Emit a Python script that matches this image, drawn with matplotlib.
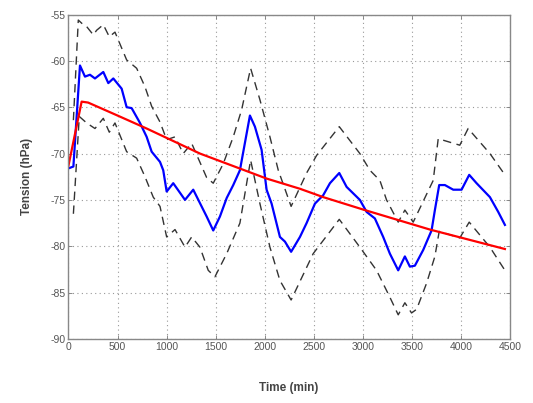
import matplotlib
matplotlib.use("Agg")
import matplotlib.pyplot as plt

# Mean tension (blue)
mean_t = [0, 50, 117, 168, 219, 270, 355, 406, 457, 542, 593, 644, 729, 797, 848,
          933, 966, 1001, 1068, 1188, 1272, 1409, 1476, 1544, 1613, 1680, 1748, 1850,
          1901, 1969, 2020, 2071, 2156, 2207, 2270, 2360, 2428, 2513, 2597, 2666, 2761,
          2836, 2971, 3040, 3124, 3209, 3277, 3362, 3430, 3481, 3532, 3617, 3702, 3736,
          3780, 3838, 3923, 4008, 4086, 4161, 4297, 4382, 4450]
mean_v = [-71.6, -71.4, -60.5, -61.7, -61.5, -61.9, -61.2, -62.4, -61.9, -63.0, -65.0,
          -65.1, -66.7, -68.2, -69.8, -70.9, -71.8, -74.1, -73.2, -75.0, -73.9, -76.8,
          -78.3, -76.8, -74.8, -73.4, -71.8, -65.9, -67.1, -69.6, -73.9, -75.4, -79.0,
          -79.5, -80.6, -79.0, -77.5, -75.4, -74.5, -73.2, -72.1, -73.6, -75.0, -76.3,
          -77.0, -79.0, -80.8, -82.6, -81.1, -82.2, -82.1, -80.4, -78.3, -76.1, -73.4,
          -73.4, -73.9, -73.9, -72.3, -73.2, -74.7, -76.3, -77.7]

# Upper bound (dashed)
up_t = [50, 100, 151, 185, 253, 287, 355, 416, 474, 593, 695, 780, 848, 933, 1001,
        1086, 1170, 1256, 1409, 1476, 1578, 1680, 1765, 1857, 1952, 2054, 2139, 2270,
        2428, 2530, 2761, 2971, 3073, 3175, 3243, 3362, 3430, 3515, 3719, 3770, 3990,
        4075, 4297, 4450]
up_v = [-66.4, -55.6, -56.1, -56.3, -57.2, -56.7, -56.1, -57.4, -56.9, -59.9,
        -60.8, -62.8, -64.9, -66.6, -68.5, -68.2, -70.0, -68.9, -72.6, -73.2, -71.1,
        -68.2, -65.3, -60.8, -64.2, -68.2, -71.8, -75.7, -72.1, -70.2, -67.1, -70.0,
        -71.8, -72.9, -75.0, -77.4, -76.1, -77.4, -72.9, -68.4, -69.1, -67.3, -70.0,
        -72.3]

# Lower bound (dashed)
lo_t = [50, 110, 185, 270, 355, 416, 474, 593, 695, 780, 864, 933, 1001, 1086,
        1188, 1256, 1340, 1425, 1493, 1613, 1748, 1857, 1952, 2054, 2156, 2270, 2495,
        2761, 2971, 3141, 3277, 3362, 3430, 3498, 3550, 3651, 3736, 3780, 3990, 4086,
        4297, 4450]
lo_v = [-76.5, -66.0, -66.7, -67.3, -66.2, -67.7, -66.7, -69.8, -70.5, -72.5,
        -74.7, -75.7, -79.0, -78.2, -80.1, -79.0, -80.1, -82.6, -83.3, -80.8, -77.5,
        -70.7, -75.4, -80.1, -83.7, -85.8, -80.8, -77.1, -80.1, -82.6, -85.5, -87.4,
        -86.1, -87.2, -86.8, -84.0, -81.1, -78.4, -79.1, -77.4, -80.1, -82.6]

# Fitted trend (red)
fit_t = [0, 134, 200, 500, 797, 1340, 2020, 2360, 2597, 3022, 3685, 4450]
fit_v = [-71.3, -64.4, -64.5, -65.9, -67.3, -70.0, -72.7, -73.8, -74.7, -76.1, -78.2, -80.3]

x_ticks = [0, 500, 1000, 1500, 2000, 2500, 3000, 3500, 4000, 4500]
y_ticks = [-90, -85, -80, -75, -70, -65, -60, -55]

plt.rcParams['font.family'] = ['Liberation Sans', 'DejaVu Sans']

fig = plt.figure(figsize=(5.33, 4.03), dpi=100)
ax = fig.add_axes([0.1285, 0.159, 0.828, 0.805])

dash = (0, (6, 4))
ax.plot(up_t, up_v, color='#333333', lw=1.0, linestyle=dash)
ax.plot(lo_t, lo_v, color='#333333', lw=1.0, linestyle=dash)
ax.plot(mean_t, mean_v, color='#0000ff', lw=1.6)
ax.plot(fit_t, fit_v, color='#ff0000', lw=1.6)

ax.set_xlim(0, 4500)
ax.set_ylim(-90, -55)
ax.set_xticks(x_ticks)
ax.set_yticks(y_ticks)
ax.set_xticklabels([str(v) for v in x_ticks])
ax.set_yticklabels([str(v) for v in y_ticks])

ax.grid(True, linestyle=(0, (1, 3)), color='#999999', lw=0.8)
ax.tick_params(direction='in', length=3, width=0.6, colors='#777777',
               labelcolor='#555555', labelsize=7.5, top=True, right=True, pad=2)
for s in ax.spines.values():
    s.set_color('#888888')
    s.set_linewidth(1.0)

ax.set_xlabel('Time (min)', fontsize=8.5, fontweight='bold', color='#444444', labelpad=22)
ax.set_ylabel('Tension (hPa)', fontsize=8.5, fontweight='bold', color='#444444', labelpad=13)

fig.savefig('out.png', dpi=100)
